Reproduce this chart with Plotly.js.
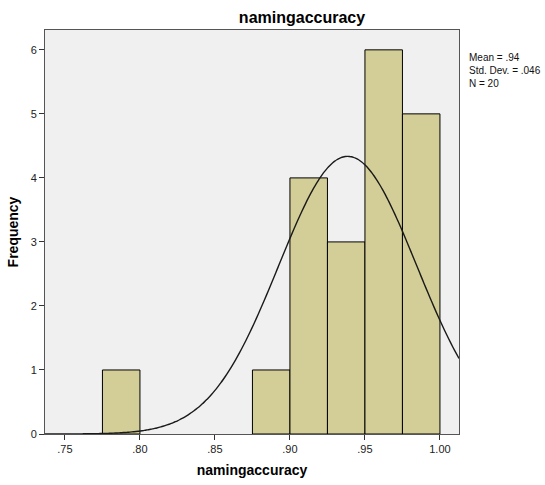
<!DOCTYPE html>
<html>
<head>
<meta charset="utf-8">
<script src="https://cdn.plot.ly/plotly-3.0.1.min.js"></script>
<style>html,body{margin:0;padding:0;background:#fff;}#chart{width:545px;height:485px;}</style>
</head>
<body>
<div id="chart"></div>
<script>
// Histogram bins (centers) and frequencies
const binCenters = [0.7875, 0.8875, 0.9125, 0.9375, 0.9625, 0.9875];
const frequencies = [1, 1, 4, 3, 6, 5];
const binWidth = 0.025;
// Summary statistics shown in the chart
const meanVal = 0.9385;
const sdVal = 0.046;
const nVal = 20;
const xTickVals = [0.75, 0.80, 0.85, 0.90, 0.95, 1.00];
const xTickText = ['.75', '.80', '.85', '.90', '.95', '1.00'];
const yTickVals = [0, 1, 2, 3, 4, 5, 6];
const xRange = [0.7367, 1.0127];
const yRange = [0, 6.31];

// Fitted normal curve, derived from the stated mean, sd and N
const curveX = [];
const curveY = [];
for (let i = 0; i <= 200; i++) {
  const x = xRange[0] + (xRange[1] - xRange[0]) * i / 200;
  const z = (x - meanVal) / sdVal;
  curveX.push(x);
  curveY.push(nVal * binWidth / (sdVal * Math.sqrt(2 * Math.PI)) * Math.exp(-0.5 * z * z));
}

const traces = [
  {
    type: 'bar', x: binCenters, y: frequencies, width: binWidth,
    marker: {color: '#D3CE97', line: {color: '#000000', width: 1}},
    hoverinfo: 'skip'
  },
  {
    type: 'scatter', mode: 'lines', x: curveX, y: curveY,
    line: {color: '#1a1a1a', width: 1.4, shape: 'spline'},
    hoverinfo: 'skip'
  }
];

const layout = {
  width: 545, height: 485,
  margin: {l: 45, r: 86, t: 30, b: 51},
  paper_bgcolor: '#ffffff',
  plot_bgcolor: '#F0F0F0',
  showlegend: false,
  font: {family: 'Arial, Liberation Sans, sans-serif', color: '#222'},
  title: {text: '<b>namingaccuracy</b>', font: {size: 16, color: '#000'}, x: 302/545, xanchor: 'center', y: 1 - 17/485, yanchor: 'middle'},
  xaxis: {
    range: xRange, tickvals: xTickVals, ticktext: xTickText,
    ticks: 'outside', ticklen: 5, tickcolor: '#333', tickfont: {size: 11, color: '#222'},
    showgrid: false, zeroline: false, showline: true, linecolor: '#555', linewidth: 1, mirror: true,
    title: {text: '<b>namingaccuracy</b>', font: {size: 14, color: '#000'}, standoff: 10}
  },
  yaxis: {
    range: yRange, tickvals: yTickVals,
    ticks: 'outside', ticklen: 5, tickcolor: '#333', tickfont: {size: 11, color: '#222'},
    showgrid: false, zeroline: false, showline: true, linecolor: '#555', linewidth: 1, mirror: true,
    title: {text: '<b>Frequency</b>', font: {size: 14, color: '#000'}, standoff: 8}
  },
  annotations: [{
    xref: 'paper', yref: 'paper', x: 1.02, y: 1 - 20/404, xanchor: 'left', yanchor: 'top',
    align: 'left', showarrow: false,
    text: 'Mean = .94<br>Std. Dev. = .046<br>N = 20',
    font: {size: 10, color: '#111'}
  }],
  bargap: 0
};

Plotly.newPlot('chart', traces, layout, {displayModeBar: false, staticPlot: true});
</script>
</body>
</html>
